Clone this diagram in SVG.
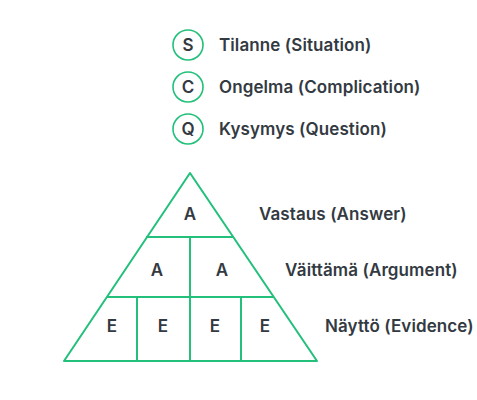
<svg xmlns="http://www.w3.org/2000/svg" width="477" height="400" viewBox="0 0 477 400">
<style>
.t{font-family:Inter,"Liberation Sans",sans-serif;font-weight:600;font-size:17px;letter-spacing:0.1px;fill:#333a42}
.c{fill:none;stroke:#22c07a;stroke-width:1.6}
.l{fill:none;stroke:#22c07a;stroke-width:2;stroke-linejoin:round}
.m{text-anchor:middle;letter-spacing:0}
</style>
<rect width="477" height="400" fill="#fff"/>
<g id="legend-s"><circle class="c" cx="188" cy="45" r="15"/><text class="t m" x="188" y="51">S</text><text class="t" x="219" y="51">Tilanne (Situation)</text></g>
<g id="legend-c"><circle class="c" cx="188" cy="87" r="15"/><text class="t m" x="188" y="93">C</text><text class="t" x="219" y="93">Ongelma (Complication)</text></g>
<g id="legend-q"><circle class="c" cx="188" cy="129" r="15"/><text class="t m" x="188" y="135">Q</text><text class="t" x="219" y="135">Kysymys (Question)</text></g>
<g id="connectors">
<path class="l" d="M190,173 L317,361 L64,361 Z"/>
<line class="l" x1="146" y1="237" x2="234" y2="237"/>
<line class="l" x1="107" y1="297" x2="273" y2="297"/>
<line class="l" x1="190" y1="237" x2="190" y2="361"/>
<line class="l" x1="137" y1="297" x2="137" y2="361"/>
<line class="l" x1="241" y1="297" x2="241" y2="361"/>
</g>
<g id="node-answer"><text class="t m" x="190" y="220">A</text><text class="t" x="259" y="220">Vastaus (Answer)</text></g>
<g id="node-argument"><text class="t m" x="157" y="276">A</text><text class="t m" x="222" y="276">A</text><text class="t" x="285" y="276">Väittämä (Argument)</text></g>
<g id="node-evidence"><text class="t m" x="112" y="332">E</text><text class="t m" x="163" y="332">E</text><text class="t m" x="215" y="332">E</text><text class="t m" x="265" y="332">E</text><text class="t" x="325" y="332">Näyttö (Evidence)</text></g>
</svg>
